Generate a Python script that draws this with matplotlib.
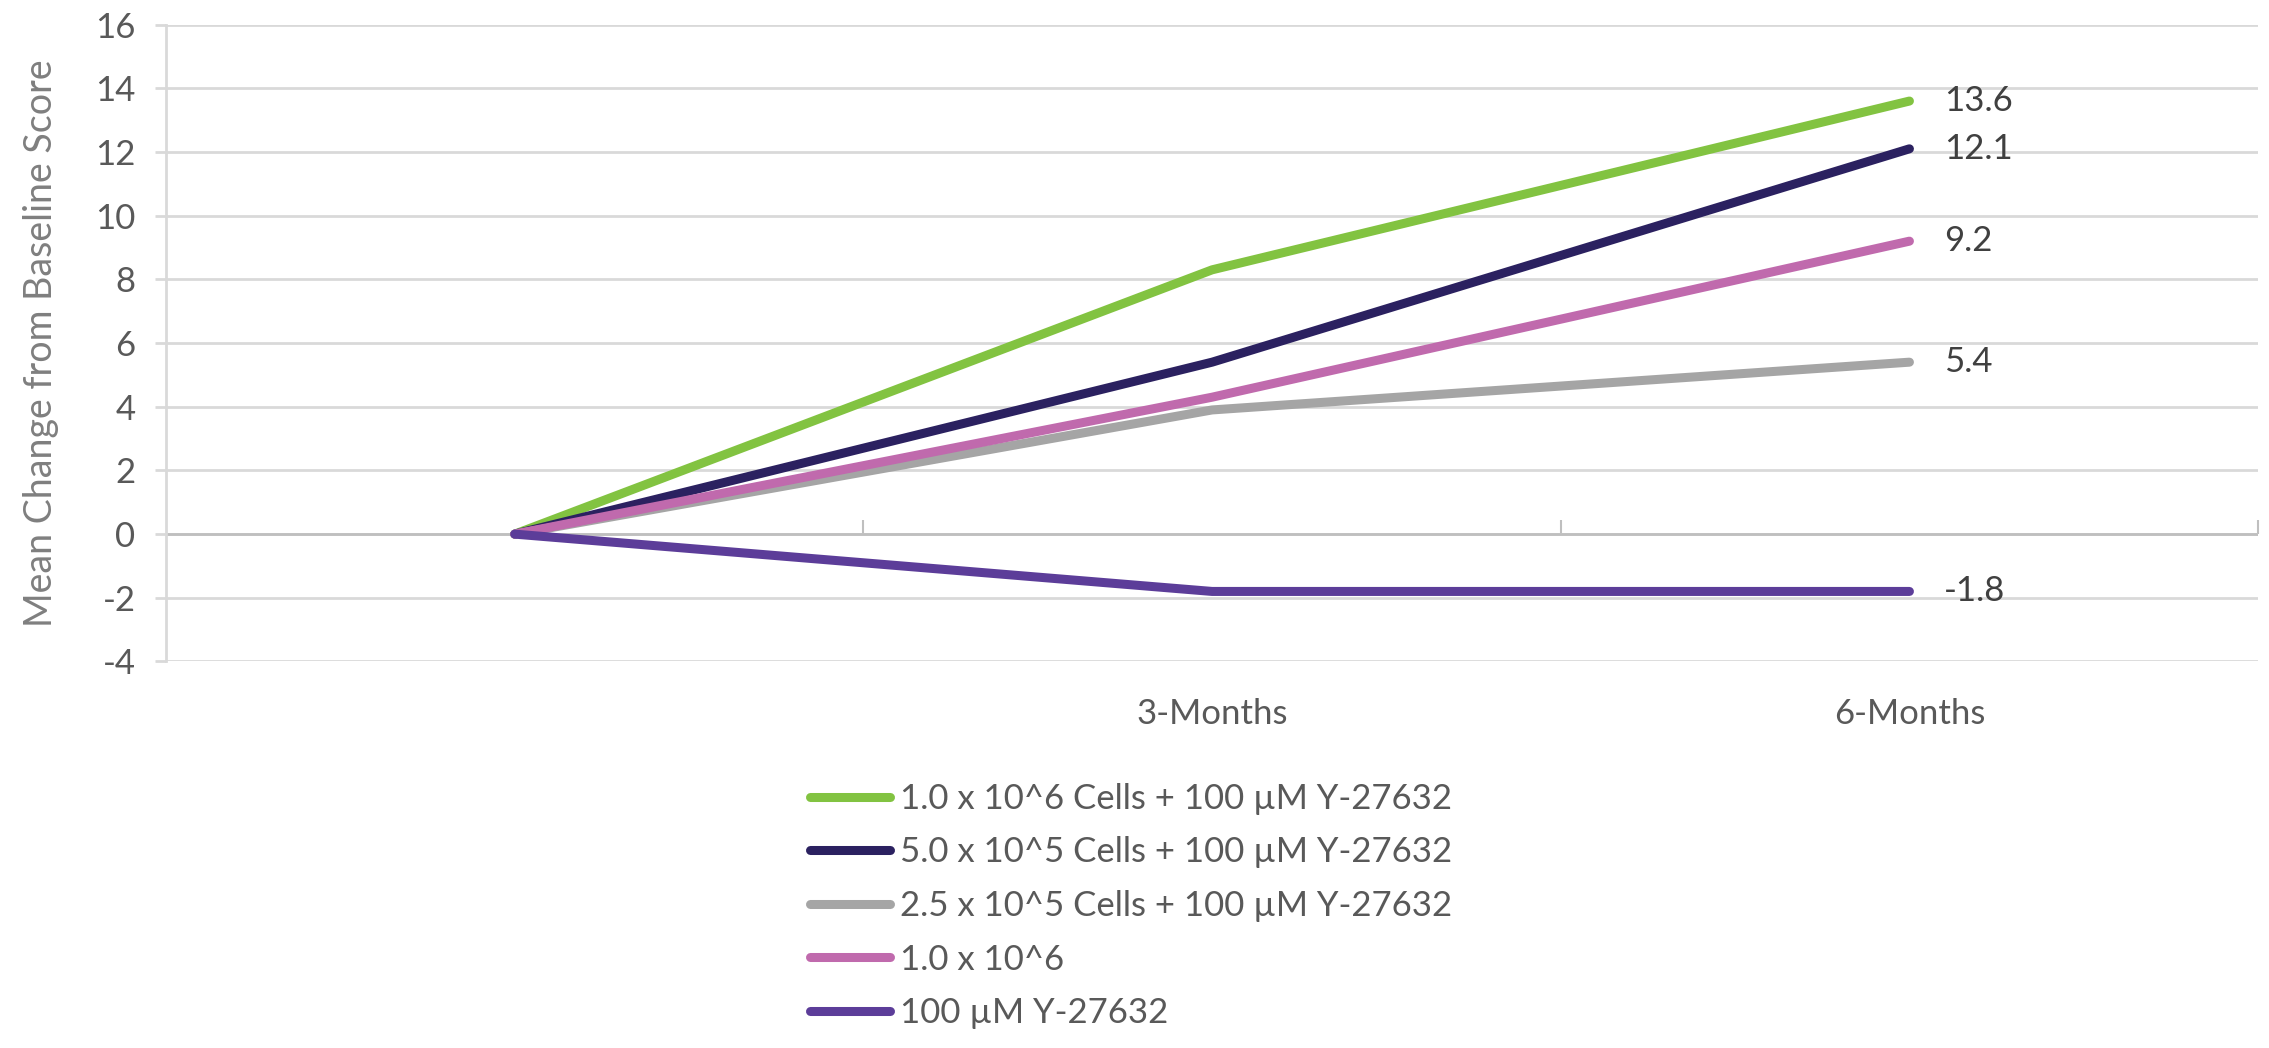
import numpy as np
import matplotlib
matplotlib.use("Agg")
import matplotlib.pyplot as plt

plt.rcParams['font.family'] = ['Lato', 'DejaVu Sans']
plt.rcParams['axes.unicode_minus'] = False

categories = ['', '3-Months', '6-Months']
series_names = ['1.0 x 10^6 Cells + 100 µM Y-27632',
                '5.0 x 10^5 Cells + 100 µM Y-27632',
                '2.5 x 10^5 Cells + 100 µM Y-27632',
                '1.0 x 10^6',
                '100 µM Y-27632']
green = [0, 8.3, 13.6]
navy = [0, 5.4, 12.1]
gray = [0, 3.9, 5.4]
pink = [0, 4.3, 9.2]
purple = [0, -1.8, -1.8]
colors = ['#82c341', '#2b2160', '#a5a5a5', '#c06aad', '#5c3d99']

values = [green, navy, gray, pink, purple]
x = np.arange(len(categories))

fig = plt.figure(figsize=(22.69, 10.48), dpi=100)
ax = fig.add_axes([0.0732, 0.3688, 0.922, 0.6077])

for name, vals, c in zip(series_names, values, colors):
    ax.plot(x, vals, color=c, lw=6.5, solid_capstyle='round',
            solid_joinstyle='round', label=name, zorder=3)
    ax.text(x[-1] + 0.05, vals[-1], f'{vals[-1]:.1f}', fontsize=25,
            color='#404040', va='center', ha='left')

ax.set_xlim(-0.5, 2.5)
ax.set_ylim(-4, 16)
ax.set_yticks(np.arange(-4, 17, 2))
ax.grid(axis='y', color='#d9d9d9', lw=2)
ax.set_axisbelow(True)
ax.axhline(0, color='#bfbfbf', lw=2, zorder=2)

for s in ['top', 'right', 'bottom']:
    ax.spines[s].set_visible(False)
ax.spines['left'].set_color('#d9d9d9')
ax.spines['left'].set_linewidth(2)

ax.tick_params(axis='y', colors='#d9d9d9', length=8, width=2, pad=14,
               labelsize=25, labelcolor='#595959')
ax.set_xticks(x)
ax.set_xticklabels(categories)
ax.tick_params(axis='x', length=0, pad=26, labelsize=25, labelcolor='#595959')

sec = ax.secondary_xaxis(0, transform=ax.transData)
sec.set_xticks([0.5, 1.5, 2.5])
sec.set_xticklabels([])
sec.tick_params(direction='in', length=10, width=1.5, color='#bfbfbf')
sec.spines['bottom'].set_visible(False)

ax.set_ylabel('Mean Change from Baseline Score', fontsize=27, color='#7f7f7f',
              labelpad=26)

fig.legend(loc='center left', bbox_to_anchor=(0.357, 0.1355), frameon=False,
           fontsize=25, labelcolor='#595959', handlelength=2.3,
           handletextpad=0.3, labelspacing=0.62, borderpad=0, borderaxespad=0)

fig.savefig('out.png', dpi=100)
